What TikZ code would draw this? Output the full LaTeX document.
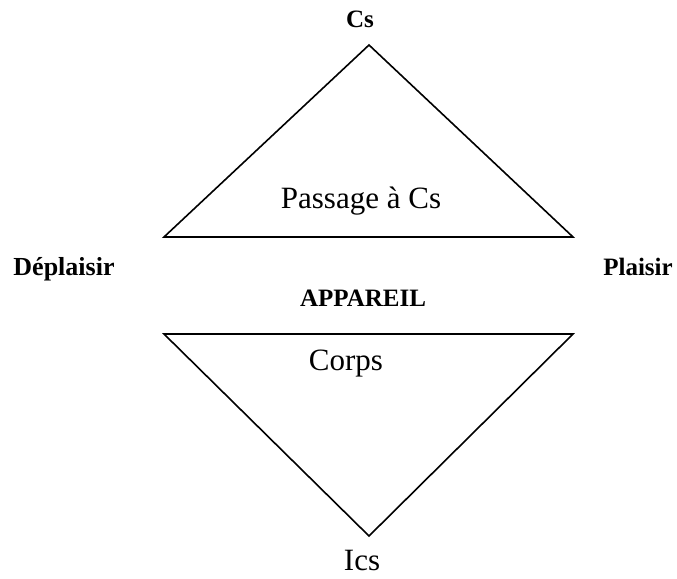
\documentclass[tikz,border=0pt]{standalone}
\usepackage{fontspec}
\setmainfont{Liberation Serif}
\usepackage{tikz}
\usetikzlibrary{positioning, calc}

\begin{document}
\begin{tikzpicture}[
  x=1pt, y=-1pt,
  every node/.style={inner sep=0pt, anchor=base},
  lab/.style={font=\fontsize{25}{28}\selectfont\bfseries},
  txt/.style={font=\fontsize{31}{34}\selectfont},
  tri/.style={line width=1.6pt, line join=miter},
]
\useasboundingbox (0,0) rectangle (677,578);
% upper triangle
\coordinate (ua) at (369,45);
\coordinate (ul) at (164,237);
\coordinate (ur) at (573,237);
% lower triangle
\coordinate (ll) at (164,334);
\coordinate (lr) at (573,334);
\coordinate (la) at (369,536);
\draw[tri] (ua) -- (ur) -- (ul) -- cycle;
\draw[tri] (ll) -- (lr) -- (la) -- cycle;
\node[lab] (cs)  at (360,28)  {Cs};
\node[txt] (pas) at (361,208) {Passage à Cs};
\node[lab, font=\fontsize{26}{28}\selectfont\bfseries] (dep) at (64,275) {Déplaisir};
\node[lab] (pla) at (638,275) {Plaisir};
\node[lab] (app) at (363,306) {APPAREIL};
\node[txt] (cor) at (346,370) {Corps};
\node[txt] (ics) at (362,570) {Ics};
\end{tikzpicture}
\end{document}
